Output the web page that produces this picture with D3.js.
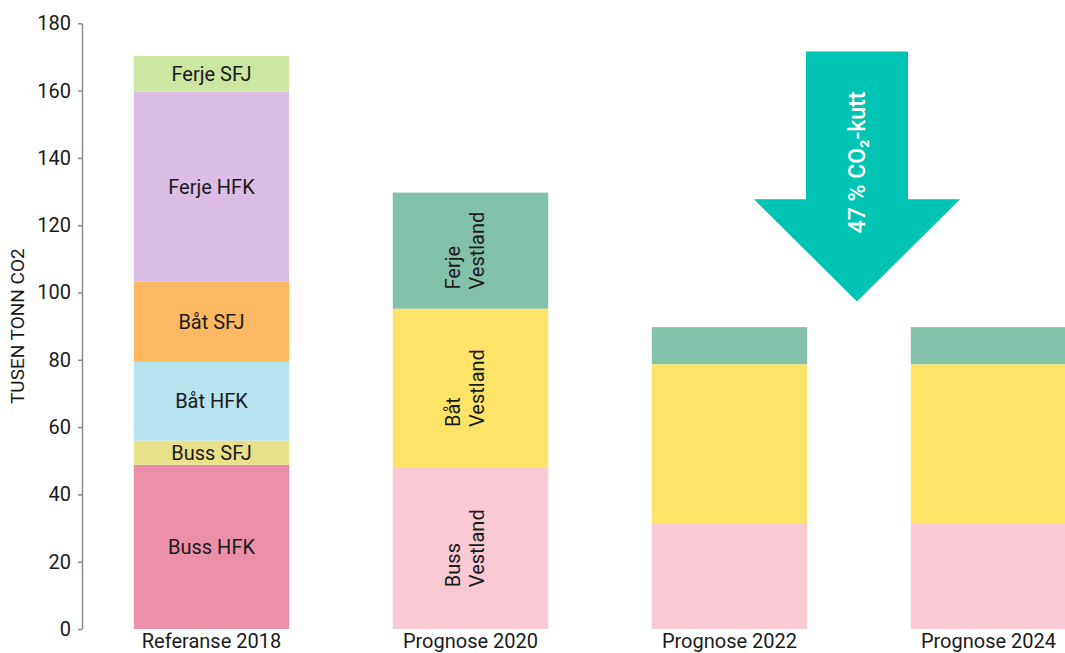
<!DOCTYPE html>
<html>
<head>
<meta charset="utf-8">
<script src="https://cdn.jsdelivr.net/npm/d3@7"></script>
<style>
  body { margin: 0; background: #fff; }
  text { font-family: Roboto, "Noto Sans", sans-serif; fill: #1a1a1a; }
</style>
</head>
<body>
<div id="chart"></div>
<script>
var W = 1065,
	H = 653;

// kategorier
var categories = ["Referanse 2018", "Prognose 2020", "Prognose 2022", "Prognose 2024"];

// serier (tusen tonn CO2)
var seriesNames = ["Buss HFK", "Buss SFJ", "Båt HFK", "Båt SFJ", "Ferje HFK", "Ferje SFJ",
	"Buss Vestland", "Båt Vestland", "Ferje Vestland"];
var bussHFK = [48.8, 0, 0, 0];
var bussSFJ = [7.2, 0, 0, 0];
var batHFK = [23.4, 0, 0, 0];
var batSFJ = [23.8, 0, 0, 0];
var ferjeHFK = [56.5, 0, 0, 0];
var ferjeSFJ = [10.6, 0, 0, 0];
var bussVestland = [0, 48.0, 31.2, 31.2];
var batVestland = [0, 47.2, 47.5, 47.5];
var ferjeVestland = [0, 34.5, 11.0, 11.0];

var yTicks = [0, 20, 40, 60, 80, 100, 120, 140, 160, 180];

var colors = ["#eb90a8", "#e9e08a", "#b6e3ee", "#fdb863", "#dcbde6", "#cde6a1",
	"#f9c9d4", "#fde368", "#83c1ab"];

// segment-etiketter: [serie, kategori, linjer, rotert]
var segLabels = [
	["Buss HFK", 0, ["Buss HFK"], false],
	["Buss SFJ", 0, ["Buss SFJ"], false],
	["Båt HFK", 0, ["Båt HFK"], false],
	["Båt SFJ", 0, ["Båt SFJ"], false],
	["Ferje HFK", 0, ["Ferje HFK"], false],
	["Ferje SFJ", 0, ["Ferje SFJ"], false],
	["Buss Vestland", 1, ["Buss", "Vestland"], true],
	["Båt Vestland", 1, ["Båt", "Vestland"], true],
	["Ferje Vestland", 1, ["Ferje", "Vestland"], true]
];

var arrowText = "47 % CO\u2082-kutt";

var values = [bussHFK, bussSFJ, batHFK, batSFJ, ferjeHFK, ferjeSFJ, bussVestland, batVestland, ferjeVestland];
var table = categories.map(function(c, i) {
	var row = { cat: c };
	seriesNames.forEach(function(s, j) { row[s] = values[j][i]; });
	return row;
});

var stacked = d3.stack().keys(seriesNames)(table);

var axisX = 82,
	y0 = 629,
	y1 = 23.3;

var x = d3.scaleBand()
	.domain(categories)
	.range([axisX, axisX + 1036])
	.paddingInner(0.4)
	.paddingOuter(0.2);

var y = d3.scaleLinear()
	.domain([0, 180])
	.range([y0, y1]);

var svg = d3.select("#chart").append("svg")
	.attr("width", W)
	.attr("height", H);

// stolper
svg.append("g").selectAll("g")
	.data(stacked)
	.enter().append("g")
	.attr("fill", function(d, i) { return colors[i]; })
	.selectAll("rect")
	.data(function(d) { return d; })
	.enter().append("rect")
	.filter(function(d) { return d[1] - d[0] > 0; })
	.attr("x", function(d) { return x(d.data.cat); })
	.attr("y", function(d) { return y(d[1]); })
	.attr("width", x.bandwidth())
	.attr("height", function(d) { return y(d[0]) - y(d[1]); });

// y-akse
var yAxis = svg.append("g")
	.attr("transform", "translate(" + axisX + ",0)")
	.call(d3.axisLeft(y).tickValues(yTicks).tickSize(4).tickPadding(7).tickSizeOuter(0));
yAxis.select(".domain").attr("stroke", "#8c8c8c").attr("stroke-width", 1.5);
yAxis.selectAll(".tick line").attr("stroke", "#8c8c8c").attr("stroke-width", 1.5);
yAxis.selectAll(".tick text")
	.attr("font-size", "20px")
	.attr("font-family", "Roboto, sans-serif")
	.attr("fill", "#1a1a1a");

svg.append("text")
	.attr("transform", "translate(24," + y(90) + ") rotate(-90)")
	.attr("text-anchor", "middle")
	.attr("font-size", "19px")
	.text("TUSEN TONN CO2");

// kategori-etiketter
svg.append("g").selectAll("text")
	.data(categories)
	.enter().append("text")
	.attr("x", function(d) { return x(d) + x.bandwidth() / 2; })
	.attr("y", 648)
	.attr("text-anchor", "middle")
	.attr("font-size", "20px")
	.text(function(d) { return d; });

// segment-etiketter
segLabels.forEach(function(l) {
	var si = seriesNames.indexOf(l[0]);
	var seg = stacked[si][l[1]];
	var cx = x(categories[l[1]]) + x.bandwidth() / 2;
	var cy = (y(seg[0]) + y(seg[1])) / 2;
	if (!l[3]) {
		svg.append("text")
			.attr("x", cx)
			.attr("y", cy)
			.attr("dy", "0.35em")
			.attr("text-anchor", "middle")
			.attr("font-size", "20px")
			.text(l[2][0]);
	} else {
		var g = svg.append("g")
			.attr("transform", "translate(" + cx + "," + cy + ") rotate(-90)");
		var t = g.append("text").attr("font-size", "20px");
		l[2].forEach(function(line, k) {
			t.append("tspan").attr("x", 0).attr("y", -11 + k * 24).text(line);
		});
		var len = d3.max(t.selectAll("tspan").nodes(), function(n) { return n.getComputedTextLength(); });
		t.selectAll("tspan").attr("x", -len / 2);
	}
});

// pil
var gapL = x(categories[2]) + x.bandwidth(),
	gapR = x(categories[3]),
	ax = (gapL + gapR) / 2 - 2,
	shaftW = 51,
	headW = 103,
	aTop = y(171.6),
	aHead = y(127.7),
	aTip = y(97.3);

svg.append("path")
	.attr("d", d3.line()([
		[ax - shaftW, aTop], [ax + shaftW, aTop], [ax + shaftW, aHead], [ax + headW, aHead],
		[ax, aTip], [ax - headW, aHead], [ax - shaftW, aHead]
	]) + "Z")
	.attr("fill", "#00c4b3");

svg.append("text")
	.attr("transform", "translate(" + (ax + 8) + "," + ((aTop + aHead) / 2 + 37) + ") rotate(-90)")
	.attr("text-anchor", "middle")
	.attr("font-size", "23px")
	.attr("font-weight", "500")
	.style("fill", "#fff")
	.text(arrowText);
</script>
</body>
</html>
